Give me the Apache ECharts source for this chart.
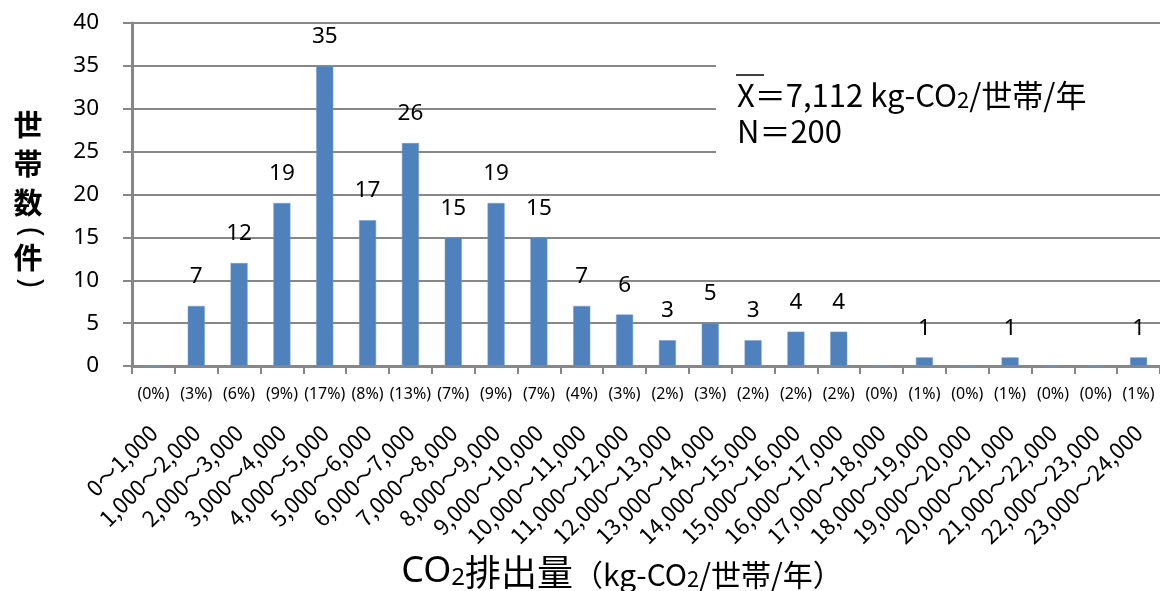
<!DOCTYPE html>
<html>
<head>
<meta charset="utf-8">
<script src="https://cdn.jsdelivr.net/npm/echarts@6/dist/echarts.min.js"></script>
<style>
html,body{margin:0;padding:0;background:#fff;}
#c{width:1160px;height:591px;}
</style>
</head>
<body>
<div id="c"></div>
<script>
const categories = ['0～1,000','1,000～2,000','2,000～3,000','3,000～4,000','4,000～5,000','5,000～6,000','6,000～7,000','7,000～8,000','8,000～9,000','9,000～10,000','10,000～11,000','11,000～12,000','12,000～13,000','13,000～14,000','14,000～15,000','15,000～16,000','16,000～17,000','17,000～18,000','18,000～19,000','19,000～20,000','20,000～21,000','21,000～22,000','22,000～23,000','23,000～24,000'];
const counts = [0,7,12,19,35,17,26,15,19,15,7,6,3,5,3,4,4,0,1,0,1,0,0,1];
const percentLabels = ['(0%)','(3%)','(6%)','(9%)','(17%)','(8%)','(13%)','(7%)','(9%)','(7%)','(4%)','(3%)','(2%)','(3%)','(2%)','(2%)','(2%)','(0%)','(1%)','(0%)','(1%)','(0%)','(0%)','(1%)'];
const yMin = 0, yMax = 40, yInterval = 5;
const meanText = '7,112';
const nText = '200';

const latin = "'Noto Sans', 'Noto Sans CJK JP', sans-serif";
const cjk = "'Noto Sans CJK JP', 'Noto Sans', sans-serif";
const gray = '#878787';

const chart = echarts.init(document.getElementById('c'));
chart.setOption({
  animation: false,
  backgroundColor: '#fff',
  grid: {left: 132, top: 23, width: 1030, height: 343, containLabel: false},
  xAxis: [{
    type: 'category',
    data: categories,
    position: 'bottom',
    axisLine: {lineStyle: {color: gray, width: 3}},
    axisTick: {show: true, length: 8, lineStyle: {color: gray, width: 2}},
    axisLabel: {rotate: 45, margin: 63, interval: 0, color: '#000', fontSize: 22, fontFamily: cjk}
  }, {
    type: 'category',
    data: percentLabels,
    position: 'bottom',
    axisLine: {show: false},
    axisTick: {show: false},
    axisLabel: {margin: 20, interval: 0, color: '#000', fontSize: 16, fontFamily: latin}
  }],
  yAxis: {
    type: 'value',
    min: yMin, max: yMax, interval: yInterval,
    axisLine: {show: true, lineStyle: {color: gray, width: 3}},
    axisTick: {show: true, length: 9, lineStyle: {color: gray, width: 2}},
    axisLabel: {margin: 33, color: '#000', fontSize: 22.5, fontFamily: latin},
    splitLine: {show: true, lineStyle: {color: gray, width: 2}}
  },
  series: [{
    type: 'bar',
    data: counts,
    xAxisIndex: 0,
    barWidth: 17,
    itemStyle: {color: '#4F81BD', borderColor: '#6f98cb', borderWidth: 0.5},
    label: {
      show: true, position: 'top', distance: 18,
      color: '#000', fontSize: 22.5, fontFamily: latin,
      formatter: p => p.value === 0 ? '' : String(p.value)
    }
  }],
  graphic: [
    {type: 'rect', z: 1, shape: {x: 716, y: 45, width: 450, height: 130}, style: {fill: '#fff'}},
    {type: 'line', z: 5, shape: {x1: 736, y1: 75, x2: 764, y2: 75}, style: {stroke: '#000', lineWidth: 1.5}},
    {type: 'text', z: 5, x: 737, y: 95, style: {
      text: '{a|X＝' + meanText + ' kg-CO}{s|2}{a|/世帯/年}',
      verticalAlign: 'middle', align: 'left',
      rich: {a: {fontSize: 31, fontFamily: cjk, fill: '#000', verticalAlign: 'bottom'},
             s: {fontSize: 22, fontFamily: cjk, fill: '#000', verticalAlign: 'bottom'}}
    }},
    {type: 'text', z: 5, x: 737, y: 131, style: {
      text: 'N＝' + nText, fontSize: 31, fontFamily: cjk, fill: '#000', verticalAlign: 'middle', align: 'left'
    }},
    // y axis title (vertical)
    {type: 'text', x: 28, y: 125, style: {text: '世', fontSize: 29, fontWeight: 'bold', fontFamily: cjk, fill: '#000', align: 'center', verticalAlign: 'middle'}},
    {type: 'text', x: 28, y: 164, style: {text: '帯', fontSize: 29, fontWeight: 'bold', fontFamily: cjk, fill: '#000', align: 'center', verticalAlign: 'middle'}},
    {type: 'text', x: 28, y: 203, style: {text: '数', fontSize: 29, fontWeight: 'bold', fontFamily: cjk, fill: '#000', align: 'center', verticalAlign: 'middle'}},
    {type: 'text', x: 31, y: 232, rotation: -Math.PI / 2, style: {text: '(', fontSize: 31, fontFamily: latin, fill: '#000', align: 'center', verticalAlign: 'middle'}},
    {type: 'text', x: 28, y: 258, style: {text: '件', fontSize: 29, fontWeight: 'bold', fontFamily: cjk, fill: '#000', align: 'center', verticalAlign: 'middle'}},
    {type: 'text', x: 31, y: 283, rotation: -Math.PI / 2, style: {text: ')', fontSize: 31, fontFamily: latin, fill: '#000', align: 'center', verticalAlign: 'middle'}},
    // x axis title
    {type: 'text', x: 622, y: 572, style: {
      text: '{b|CO}{bs|2}{c|排出量}{d|（kg-CO}{ds|2}{d|/世帯/年）}',
      align: 'center', verticalAlign: 'middle',
      rich: {
        b: {fontSize: 36, fontFamily: latin, fill: '#000', verticalAlign: 'bottom'},
        bs: {fontSize: 24, fontFamily: latin, fill: '#000', verticalAlign: 'bottom'},
        c: {fontSize: 36, fontFamily: cjk, fill: '#000', verticalAlign: 'bottom'},
        d: {fontSize: 30, fontFamily: cjk, fill: '#000', verticalAlign: 'bottom'},
        ds: {fontSize: 22, fontFamily: cjk, fill: '#000', verticalAlign: 'bottom'}
      }
    }}
  ]
});
</script>
</body>
</html>
